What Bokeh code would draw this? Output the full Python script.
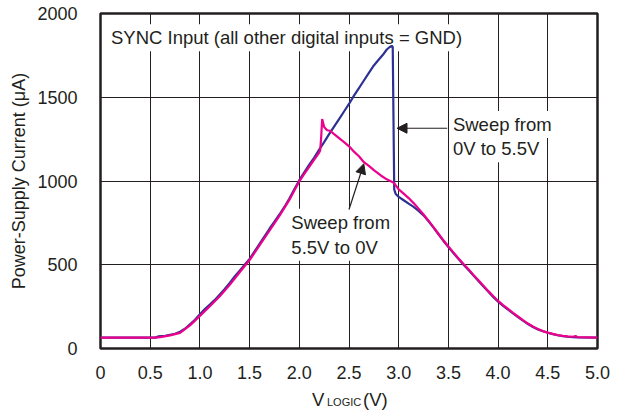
from bokeh.plotting import figure
from bokeh.layouts import column
from bokeh.models import Label, Arrow, NormalHead, FixedTicker, Range1d
from bokeh.core.properties import value
from bokeh.embed import file_html
from bokeh.resources import INLINE

# Sweep from 0V to 5.5V (blue)
v_up = [0.00, 0.55, 0.58, 0.65, 0.70, 0.75, 0.80, 0.85, 0.90, 0.95,
        1.00, 1.05, 1.10, 1.15, 1.20, 1.25, 1.30, 1.35, 1.40, 1.45,
        1.50, 1.55, 1.60, 1.65, 1.70, 1.75, 1.80, 1.85, 1.90, 1.95,
        2.00, 2.05, 2.10, 2.15, 2.20, 2.25, 2.30, 2.35, 2.40, 2.45,
        2.50, 2.55, 2.60, 2.65, 2.70, 2.75, 2.80, 2.85, 2.88, 2.91,
        2.93, 2.94, 2.955, 2.97, 3.00, 3.05, 3.10, 3.15, 3.20, 3.25,
        3.30, 3.35, 3.40, 3.45, 3.50, 3.55, 3.60, 3.65, 3.70, 3.75,
        3.80, 3.85, 3.90, 3.95, 4.00, 4.05, 4.10, 4.15, 4.20, 4.25,
        4.30, 4.35, 4.40, 4.45, 4.50, 4.55, 4.60, 4.65, 4.70, 4.75,
        4.80, 5.00]
i_up = [65, 65, 72, 75, 82, 88, 100, 118, 145, 172,
        205, 235, 262, 290, 322, 355, 392, 430, 465, 500,
        535, 580, 625, 670, 715, 758, 800, 845, 895, 950,
        1005, 1052, 1098, 1140, 1187, 1232, 1280, 1325, 1370, 1415,
        1460, 1510, 1555, 1600, 1645, 1690, 1725, 1760, 1785, 1800,
        1807, 1800, 950, 922, 905, 885, 865, 845, 822, 795,
        760, 722, 682, 642, 605, 570, 535, 502, 470, 437,
        405, 372, 340, 308, 280, 255, 232, 210, 188, 166,
        146, 128, 114, 103, 94, 86, 79, 74, 70, 68,
        66, 65]

# Sweep from 5.5V to 0V (pink), listed by increasing voltage
v_down = [0.00, 0.55, 0.60, 0.70, 0.80, 0.90, 1.00, 1.10, 1.20, 1.30,
          1.40, 1.50, 1.60, 1.70, 1.80, 1.90, 2.00, 2.05, 2.10, 2.15,
          2.20, 2.21, 2.22, 2.23, 2.25, 2.28, 2.31, 2.35, 2.40, 2.45,
          2.51, 2.55, 2.60, 2.65, 2.70, 2.75, 2.82, 2.88, 2.95, 3.00,
          3.05, 3.10, 3.15, 3.20, 3.25, 3.30, 3.35, 3.40, 3.45,
          3.50, 3.55, 3.60, 3.65, 3.70, 3.75, 3.80, 3.85, 3.90, 3.95,
          4.00, 4.05, 4.10, 4.15, 4.20, 4.25, 4.30, 4.35, 4.40, 4.45,
          4.50, 4.55, 4.60, 4.65, 4.70, 4.75, 4.78, 4.80, 5.00]
i_down = [65, 65, 68, 78, 93, 138, 195, 252, 312, 380,
          455, 528, 615, 703, 792, 887, 998, 1042, 1085, 1127,
          1170, 1182, 1260, 1370, 1322, 1303, 1300, 1280, 1256, 1232,
          1202, 1175, 1148, 1112, 1090, 1065, 1033, 1010, 990, 950,
          925, 898, 868, 835, 800, 763, 725, 685, 646,
          609, 574, 539, 506, 474, 441, 409, 376, 344, 313,
          284, 259, 236, 213, 191, 169, 149, 131, 116, 104,
          95, 87, 80, 75, 72, 70, 74, 68, 65]

x_ticks = [0, 0.5, 1, 1.5, 2, 2.5, 3, 3.5, 4, 4.5, 5]
x_tick_labels = ["0", "0.5", "1.0", "1.5", "2.0", "2.5", "3.0", "3.5", "4.0", "4.5", "5.0"]
y_ticks = [0, 500, 1000, 1500, 2000]
y_tick_labels = ["0", "500", "1000", "1500", "2000"]

FONT = "Liberation Sans"
TXT = "#231f20"
BLUE = "#2e3192"
PINK = "#ec008c"
FS = "18.5px"

p = figure(width=618, height=383, x_range=(0, 5), y_range=(0, 2000),
           output_backend="svg", toolbar_location=None,
           min_border_left=100, min_border_right=21,
           min_border_top=13, min_border_bottom=35)
p.background_fill_color = "white"
p.border_fill_color = "white"
p.outline_line_color = TXT
p.outline_line_width = 2.5

p.xaxis.ticker = FixedTicker(ticks=x_ticks)
p.yaxis.ticker = FixedTicker(ticks=y_ticks)
p.xaxis.major_label_overrides = {(int(t) if float(t).is_integer() else t): s
                                 for t, s in zip(x_ticks, x_tick_labels)}
p.yaxis.major_label_overrides = {t: s for t, s in zip(y_ticks, y_tick_labels)}

p.axis.axis_line_color = None
p.axis.major_tick_line_color = None
p.axis.minor_tick_line_color = None
p.axis.major_label_text_font = FONT
p.axis.major_label_text_font_size = "18px"
p.axis.major_label_text_color = TXT
p.xaxis.major_label_standoff = 11
p.yaxis.major_label_standoff = 17

p.yaxis.axis_label = "Power-Supply Current (\u03bcA)"
p.yaxis.axis_label_text_font = FONT
p.yaxis.axis_label_text_font_size = "18px"
p.yaxis.axis_label_text_font_style = "normal"
p.yaxis.axis_label_text_color = TXT
p.yaxis.axis_label_standoff = 5

p.grid.grid_line_color = TXT
p.grid.grid_line_width = 1

p.line(v_up, i_up, line_color=BLUE, line_width=2.2)
p.line(v_down, i_down, line_color=PINK, line_width=2.2)

def lbl(x, y, text):
    return Label(x=x, y=y, text=text, text_font=FONT, text_font_size=FS,
                 text_color=TXT, text_baseline="alphabetic", text_align="left",
                 background_fill_color="white", padding=3, level="underlay")

p.add_layout(lbl(0.075, 1855, "SYNC Input (all other digital inputs = GND)"))
p.add_layout(lbl(3.515, 1337, "Sweep from"))
p.add_layout(lbl(3.515, 1192, "0V to 5.5V"))
p.add_layout(lbl(1.89, 754, "Sweep from"))
p.add_layout(lbl(1.89, 605, "5.5V to 0V"))

p.add_layout(Arrow(end=NormalHead(size=10, fill_color=TXT, line_color=TXT),
                   x_start=3.488, y_start=1315, x_end=2.983, y_end=1315,
                   line_color=TXT, line_width=1.2))
p.add_layout(Arrow(end=NormalHead(size=10, fill_color=TXT, line_color=TXT),
                   x_start=2.50, y_start=830, x_end=2.649, y_end=1103,
                   line_color=TXT, line_width=1.2))

# strip below the chart holding the x-axis title V_LOGIC (V)
# (x in page pixels, y in pixels from the top of the strip)
xt_parts = ["V", "LOGIC", "(V)"]
xt_x = [311.5, 326.5, 362.5]
xt_y = [15.5, 18.0, 15.5]
xt_size = ["18.5px", "11px", "18.5px"]

q = figure(width=618, height=28, x_range=Range1d(100, 597), y_range=Range1d(28, 0),
           output_backend="svg", toolbar_location=None, title=None,
           x_axis_location=None, y_axis_location=None,
           min_border_left=100, min_border_right=21,
           min_border_top=0, min_border_bottom=0)
q.grid.visible = False
q.outline_line_color = None
q.background_fill_color = "white"
q.border_fill_color = "white"
q.text(x=xt_x, y=xt_y, text=xt_parts, text_font=value(FONT),
       text_font_size=xt_size, text_color=TXT, text_baseline="alphabetic",
       text_align="left")

layout = column(p, q, spacing=0)
open("out.html", "w").write(file_html(layout, INLINE))
